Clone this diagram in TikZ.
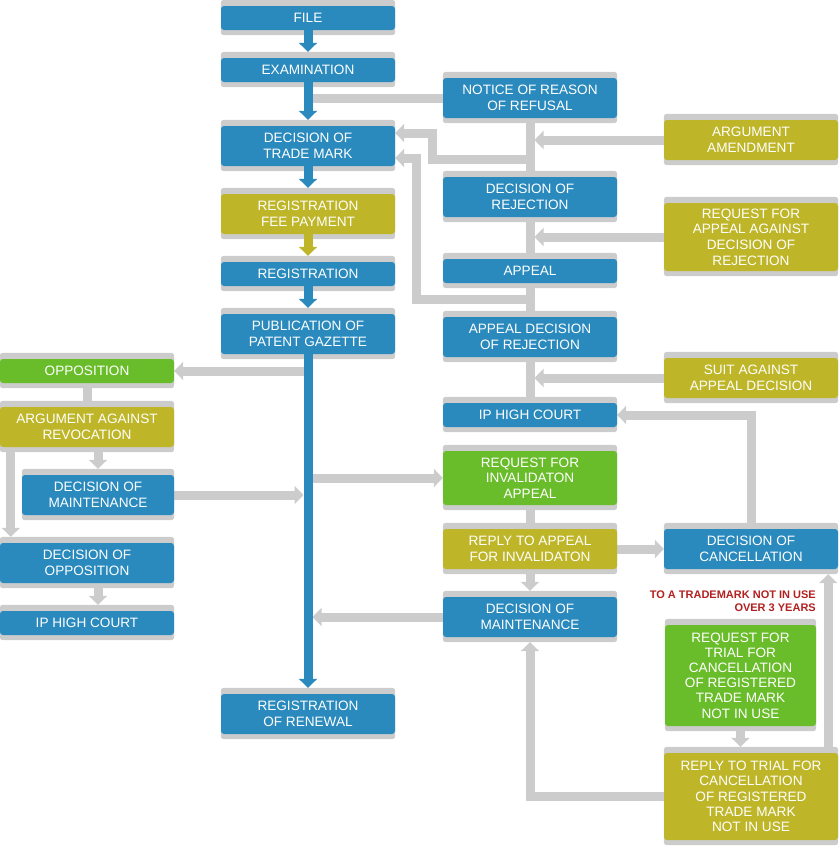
\documentclass[tikz,border=0pt]{standalone}
\usepackage{fontspec}
\setmainfont{Liberation Sans}
\usetikzlibrary{arrows.meta, calc}
\definecolor{box-blue}{RGB}{42,138,189}
\definecolor{box-olive}{RGB}{190,182,40}
\definecolor{box-green}{RGB}{106,189,42}
\definecolor{link-gray}{RGB}{204,204,204}
\definecolor{note-red}{RGB}{178,32,32}
\pgfdeclarelayer{back}
\pgfdeclarelayer{mid}
\pgfsetlayers{back,mid,main}
\tikzset{
    box/.style = {rectangle, rounded corners=3pt, inner sep=0pt,
        minimum width=174pt, minimum height=24pt, text=white, align=center,
        font=\fontsize{13.6}{15.6}\selectfont},
    blue-box/.style = {box, fill=box-blue},
    olive-box/.style = {box, fill=box-olive},
    green-box/.style = {box, fill=box-green},
    tall/.style = {minimum height=40pt},
    note/.style = {inner sep=0pt, align=right, text=note-red,
        font=\bfseries\fontsize{11}{13}\selectfont},
    link/.style = {draw=link-gray, line width=9pt},
    link-arrow/.style = {link, -{Triangle[width=18pt,length=9pt]}},
    flow/.style = {draw=box-blue, line width=9pt, -{Triangle[width=18pt,length=9pt]}},
}

\begin{document}
\begin{tikzpicture}[x=1pt, y=-1pt]
\useasboundingbox (0,0) rectangle (838,846);

\node[blue-box] (file) at (308,18) {FILE};
\node[blue-box] (exam) at (308,70) {EXAMINATION};
\node[blue-box, tall] (dtm) at (308,146) {DECISION OF\\TRADE MARK};
\node[olive-box, tall] (fee) at (308,214) {REGISTRATION\\FEE PAYMENT};
\node[blue-box] (reg) at (308,274) {REGISTRATION};
\node[blue-box, tall] (pub) at (308,334) {PUBLICATION OF\\PATENT GAZETTE};
\node[blue-box, tall] (renew) at (308,714) {REGISTRATION\\OF RENEWAL};

\node[blue-box, tall] (notice) at (530,98) {NOTICE OF REASON\\OF REFUSAL};
\node[blue-box, tall] (rej) at (530,197) {DECISION OF\\REJECTION};
\node[blue-box] (appeal) at (530,271) {APPEAL};
\node[blue-box, tall] (adr) at (530,337) {APPEAL DECISION\\OF REJECTION};
\node[blue-box] (ipr) at (530,415) {IP HIGH COURT};
\node[green-box, minimum height=54pt] (inv) at (530,478) {REQUEST FOR\\INVALIDATON\\APPEAL};
\node[olive-box, tall] (rinv) at (530,549) {REPLY TO APPEAL\\FOR INVALIDATON};
\node[blue-box, tall] (mainr) at (530,617) {DECISION OF\\MAINTENANCE};

\node[olive-box, tall] (amend) at (751,140) {ARGUMENT\\AMENDMENT};
\node[olive-box, minimum height=68pt] (rqa) at (751,237) {REQUEST FOR\\APPEAL AGAINST\\DECISION OF\\REJECTION};
\node[olive-box, tall] (suit) at (751,378) {SUIT AGAINST\\APPEAL DECISION};
\node[blue-box, tall] (canc) at (751,549) {DECISION OF\\CANCELLATION};
\node[note, anchor=north east] (note) at (816,591) {TO A TRADEMARK NOT IN USE\\OVER 3 YEARS};
\node[green-box, minimum width=151pt, minimum height=101pt, font=\fontsize{13.6}{15.2}\selectfont] (rtc) at (740.5,675.5) {REQUEST FOR\\TRIAL FOR\\CANCELLATION\\OF REGISTERED\\TRADE MARK\\NOT IN USE};
\node[olive-box, minimum height=87pt, font=\fontsize{13.6}{15.3}\selectfont] (rptc) at (751,796.5) {REPLY TO TRIAL FOR\\CANCELLATION\\OF REGISTERED\\TRADE MARK\\NOT IN USE};

\node[green-box] (opp) at (87,371) {OPPOSITION};
\node[olive-box, tall] (arg) at (87,427) {ARGUMENT AGAINST\\REVOCATION};
\node[blue-box, tall, minimum width=152pt] (mainl) at (98,495) {DECISION OF\\MAINTENANCE};
\node[blue-box, tall] (dopp) at (87,563) {DECISION OF\\OPPOSITION};
\node[blue-box] (ipl) at (87,623) {IP HIGH COURT};

\coordinate (ret1) at (530,159);
\coordinate (ret2) at (530,299);

\begin{pgfonlayer}{back}
\foreach \n in {file,exam,dtm,fee,reg,pub,renew,notice,rej,appeal,adr,ipr,inv,rinv,mainr,amend,rqa,suit,canc,rtc,rptc,opp,arg,mainl,dopp,ipl}
    \fill[link-gray, rounded corners=3pt] ([yshift=6pt]\n.north west) rectangle ([yshift=-5pt]\n.south east);

\draw[link] (notice.west) -- (notice.west -| exam);
\draw[link] (notice.south) -- (ipr.north);
\draw[link-arrow] (amend.west) -- ($(amend.west -| rej)+(4.5,0)$);
\draw[link-arrow] (rqa.west) -- ($(rqa.west -| rej)+(4.5,0)$);
\draw[link-arrow] (suit.west) -- ($(suit.west -| rej)+(4.5,0)$);
\draw[link-arrow] (ret1) -- ++(-98,0) |- ([yshift=13pt]dtm.east);
\draw[link-arrow] (ret2) -- ++(-114,0) |- ([yshift=-12pt]dtm.east);
\draw[link-arrow] (canc.north) |- (ipr.east);
\draw[link] (inv) -- (rinv);
\draw[link-arrow] (rinv.east) -- (canc.west);
\draw[link-arrow] (rinv.south) -- ([yshift=6pt]mainr.north);
\draw[link-arrow] (mainr.west) -- ($(mainr.west -| pub)+(4.5,0)$);
\draw[link-arrow] (inv.west -| pub) -- (inv.west);
\draw[link-arrow] (opp.east -| pub) -- (opp.east);
\draw[link] (opp) -- (arg);
\draw[link-arrow] (arg.south -| mainl) -- ([yshift=6pt]mainl.north);
\draw[link-arrow] ([xshift=11pt]arg.south west) -- ([xshift=11pt,yshift=6pt]dopp.north west);
\draw[link-arrow] (mainl.east) -- ($(mainl.east -| pub)+(-4.5,0)$);
\draw[link-arrow] (dopp.south -| mainl) -- ([yshift=6pt]ipl.north -| mainl);
\draw[link-arrow] (rtc.south) -- ([yshift=6pt]rptc.north -| rtc);
\draw[link-arrow] ([xshift=-10pt]rptc.north east) -- ([xshift=-10pt,yshift=-5pt]canc.south east);
\draw[link-arrow] (rptc.west) -| ([yshift=-5pt]mainr.south);
\end{pgfonlayer}

\begin{pgfonlayer}{mid}
\draw[flow] (file.south) -- ([yshift=6pt]exam.north);
\draw[flow] (exam.south) -- ([yshift=6pt]dtm.north);
\draw[flow] (dtm.south) -- ([yshift=6pt]fee.north);
\draw[flow, draw=box-olive] (fee.south) -- ([yshift=6pt]reg.north);
\draw[flow] (reg.south) -- ([yshift=6pt]pub.north);
\draw[flow] (pub.south) -- ([yshift=6pt]renew.north);
\end{pgfonlayer}
\end{tikzpicture}
\end{document}
